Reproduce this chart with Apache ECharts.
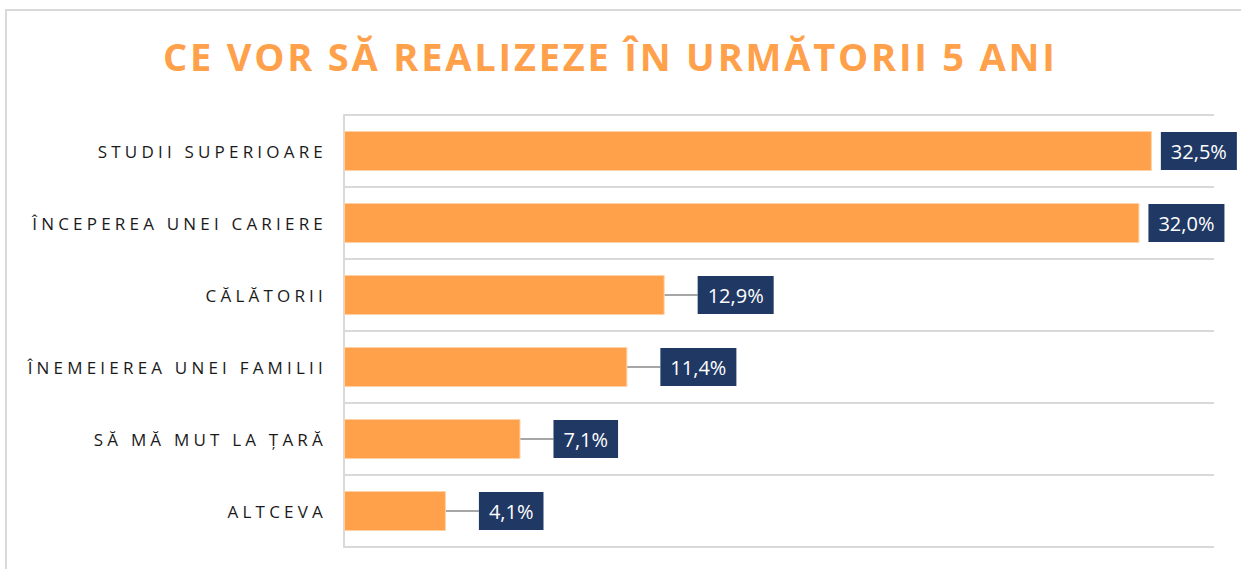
<!DOCTYPE html>
<html>
<head>
<meta charset="utf-8">
<script src="https://cdn.jsdelivr.net/npm/echarts@6/dist/echarts.min.js"></script>
<style>
  html, body { margin: 0; padding: 0; background: #fff; }
  #chart { width: 1241px; height: 569px; }
  /* spaced capitals like the original */
  #chart text { letter-spacing: 4.2px; }
  #chart text[fill="#fff" i], #chart text[fill="#ffffff" i] { letter-spacing: 0; }
  #chart text[fill="#ffa04a" i] { letter-spacing: 2.8px; }
</style>
</head>
<body>
<div id="chart"></div>
<script>
var categories = [
    'STUDII SUPERIOARE',
    'ÎNCEPEREA UNEI CARIERE',
    'CĂLĂTORII',
    'ÎNEMEIEREA UNEI FAMILII',
    'SĂ MĂ MUT LA ȚARĂ',
    'ALTCEVA'
];
var values = [32.5, 32.0, 12.9, 11.4, 7.1, 4.1];

var chart = echarts.init(document.getElementById('chart'), null, { renderer: 'svg' });

// long bars: label right next to the bar, short ones get pushed out with a leader line
var barData = values.map(function (v, i) {
    return { value: v, labelLine: { show: i >= 2 } };
});

var option = {
    animation: false,
    title: {
        text: 'CE VOR SĂ REALIZEZE ÎN URMĂTORII 5 ANI',
        left: 158,
        top: 32,
        textStyle: {
            color: '#FFA04A',
            fontFamily: 'Open Sans',
            fontWeight: 'bold',
            fontSize: 38
        }
    },
    graphic: [{
        type: 'rect',
        shape: { x: 6, y: 10, width: 1260, height: 600 },
        style: { fill: 'none', stroke: '#d9d9d9', lineWidth: 2 },
        silent: true
    }],
    grid: { left: 344, right: 27, top: 115, bottom: 22 },
    xAxis: {
        type: 'value',
        min: 0,
        max: 35,
        show: false
    },
    yAxis: {
        type: 'category',
        inverse: true,
        data: categories,
        axisLine: { lineStyle: { color: '#d9d9d9', width: 2 } },
        axisTick: { show: false },
        splitLine: { show: true, lineStyle: { color: '#d9d9d9', width: 2 } },
        axisLabel: {
            color: '#1a1a1a',
            fontFamily: 'Open Sans',
            fontSize: 17,
            margin: 17
        }
    },
    series: [{
        type: 'bar',
        data: barData,
        barWidth: 40,
        itemStyle: { color: '#FFA04A', borderColor: '#FFD2A6', borderWidth: 1 },
        label: {
            show: true,
            position: 'right',
            distance: 9,
            color: '#fff',
            fontFamily: 'Open Sans',
            fontSize: 20,
            lineHeight: 20,
            backgroundColor: '#203864',
            padding: [9, 10, 9, 10],
            formatter: function (p) {
                return p.value.toFixed(1).replace('.', ',') + '%';
            }
        },
        labelLine: {
            show: true,
            lineStyle: { color: '#a6a6a6', width: 2 }
        },
        labelLayout: function (p) {
            return p.dataIndex >= 2 ? { dx: 24 } : {};
        }
    }]
};

chart.setOption(option);
</script>
</body>
</html>
